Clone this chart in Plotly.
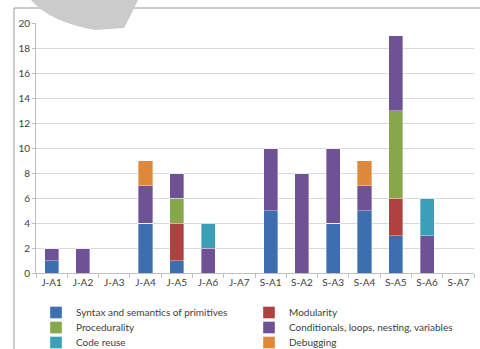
import plotly.graph_objects as go

categories = ["J-A1", "J-A2", "J-A3", "J-A4", "J-A5", "J-A6", "J-A7",
              "S-A1", "S-A2", "S-A3", "S-A4", "S-A5", "S-A6", "S-A7"]

syntax      = [1, 0, 0, 4, 1, 0, 0, 5, 0, 4, 5, 3, 0, 0]
modularity  = [0, 0, 0, 0, 3, 0, 0, 0, 0, 0, 0, 3, 0, 0]
procedural  = [0, 0, 0, 0, 2, 0, 0, 0, 0, 0, 0, 7, 0, 0]
conditional = [1, 2, 0, 3, 2, 2, 0, 5, 8, 6, 2, 6, 3, 0]
code_reuse  = [0, 0, 0, 0, 0, 2, 0, 0, 0, 0, 0, 0, 3, 0]
debugging   = [0, 0, 0, 2, 0, 0, 0, 0, 0, 0, 2, 0, 0, 0]

# (name, values, colour, legend row)
series = [
    ("Syntax and semantics of primitives", syntax, "#3d6faf", "legend"),
    ("Modularity", modularity, "#b04141", "legend"),
    ("Procedurality", procedural, "#86a84b", "legend2"),
    ("Conditionals, loops, nesting, variables", conditional, "#6f5196", "legend2"),
    ("Code reuse", code_reuse, "#3b9fb7", "legend3"),
    ("Debugging", debugging, "#e0883a", "legend3"),
]

FONT = "Lato"
W, H = 480, 349
L, R, T, B = 36, 6, 23, 76
PW, PH = W - L - R, H - T - B


def px(x):
    return (x - L) / PW


def py(y):
    return (H - B - y) / PH


fig = go.Figure()
for name, vals, color, leg in series:
    fig.add_trace(go.Bar(
        x=categories, y=vals, name=name, legend=leg,
        marker=dict(color=color, line=dict(color="rgba(255,255,255,0.6)", width=0.6)),
    ))

# outer frame (left and top edges)
frame = (f"M {px(14)},{py(349)} L {px(14)},{py(8)} L {px(480)},{py(8)}")
# grey swoosh over the top edge
swoosh = (f"M {px(31)},{py(0)} Q {px(50)},{py(22)} {px(95)},{py(30)} "
          f"L {px(124)},{py(28)} Q {px(131)},{py(15)} {px(138)},{py(0)} Z")


def legend_row(top):
    return dict(
        orientation="h", x=px(36), xanchor="left", y=py(top), yanchor="top",
        entrywidth=168, entrywidthmode="pixels",
        font=dict(family=FONT, size=10, color="#404040"),
        itemclick=False, traceorder="normal", bgcolor="rgba(0,0,0,0)",
    )


fig.update_layout(
    width=W, height=H,
    margin=dict(l=L, r=R, t=T, b=B, autoexpand=False),
    barmode="stack",
    bargap=0.55,
    plot_bgcolor="white",
    paper_bgcolor="white",
    font=dict(family=FONT, size=10, color="#404040"),
    showlegend=True,
    legend=legend_row(298),
    legend2=legend_row(313),
    legend3=legend_row(328),
    shapes=[
        dict(type="path", xref="paper", yref="paper", path=frame,
             line=dict(color="#9a9a9a", width=1), layer="above"),
        dict(type="path", xref="paper", yref="paper", path=swoosh,
             fillcolor="#cbcbcb", line=dict(width=0), layer="above"),
    ],
)

fig.update_xaxes(
    showline=True, linecolor="#bfbfbf", linewidth=1,
    ticks="outside", tickson="boundaries", ticklen=4, tickcolor="#bfbfbf",
    showgrid=False, tickfont=dict(size=10, color="#404040"),
)
fig.update_yaxes(
    range=[0, 20], dtick=2,
    showline=True, linecolor="#bfbfbf", linewidth=1,
    ticks="outside", ticklen=3, tickcolor="#bfbfbf",
    showgrid=True, gridcolor="#d9d9d9", gridwidth=1,
    zeroline=False, tickfont=dict(size=10, color="#404040"),
)

fig.write_html("out.html")
